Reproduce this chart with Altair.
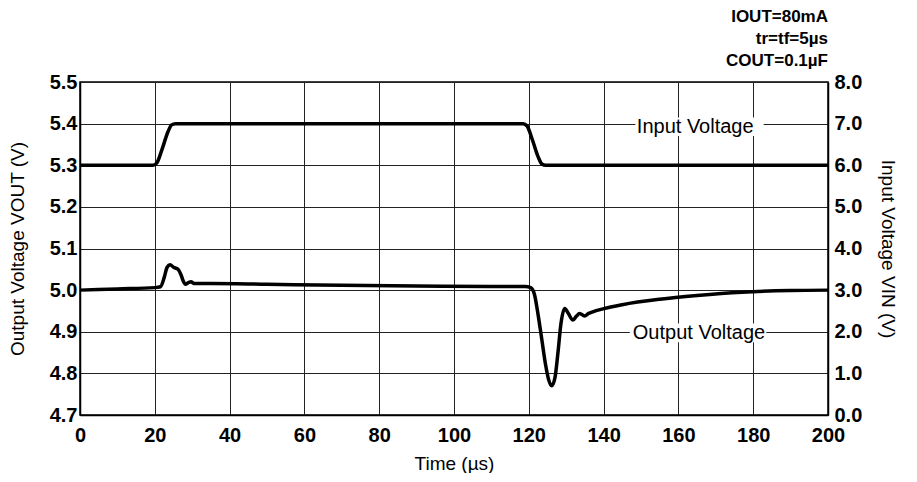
import altair as alt
import pandas as pd

# Output voltage (left axis, V) vs time (µs)
out_t = [0, 10, 20, 21.5, 22.5, 23.3, 24.1, 25, 26.2, 27, 27.6, 28.2, 29, 29.7, 30.5,
         35, 50, 70, 90, 110, 119, 120.5, 121.5, 122.5, 123.5, 124.5, 125.3, 126.1,
         127, 127.8, 128.6, 129.6, 130.5, 131.8, 132.7, 133.6, 134.9, 136, 137.1,
         139.8, 145, 155, 165, 177, 190, 200]
out_v = [5.000, 5.003, 5.006, 5.008, 5.030, 5.055, 5.061, 5.055, 5.050, 5.037, 5.022,
         5.014, 5.018, 5.020, 5.016, 5.016, 5.014, 5.0115, 5.010, 5.009, 5.009, 5.006,
         4.990, 4.940, 4.880, 4.820, 4.785, 4.770, 4.790, 4.850, 4.920, 4.956, 4.945,
         4.928, 4.937, 4.944, 4.938, 4.944, 4.948, 4.955, 4.965, 4.978, 4.987, 4.995,
         4.999, 5.000]

# Input voltage (right axis, V) vs time (µs)
in_t = [0, 19.5, 20.5, 22, 23.5, 24.5, 25.5, 118.5, 119.5, 121, 122.5, 123.5, 124.5, 200]
in_v = [6.0, 6.0, 6.05, 6.4, 6.8, 6.97, 7.0, 7.0, 6.95, 6.6, 6.2, 6.03, 6.0, 6.0]

# Curve labels (text, time, left-axis value) and their white backgrounds
lab_text = ["Input Voltage", "Output Voltage"]
lab_t = [164.5, 165.5]
lab_v = [5.392, 4.897]
bg_t1 = [148.5, 147.0]
bg_t2 = [182.8, 183.5]
bg_v1 = [5.37, 4.875]
bg_v2 = [5.415, 4.92]

notes = ["IOUT=80mA", "tr=tf=5µs", "COUT=0.1µF"]

FONT = "Liberation Sans"

out_df = pd.DataFrame({"t": out_t, "v": out_v})
in_df = pd.DataFrame({"t": in_t, "v": in_v})
lab_df = pd.DataFrame({"text": lab_text, "t": lab_t, "v": lab_v,
                       "t1": bg_t1, "t2": bg_t2, "v1": bg_v1, "v2": bg_v2})

xscale = alt.Scale(domain=[0, 200], nice=False)
xaxis = alt.Axis(values=list(range(0, 201, 20)), title="Time (µs)", grid=True,
                 gridColor="#222", gridOpacity=1, gridWidth=1, ticks=False,
                 labelPadding=10, titlePadding=9, labelFlush=False)
lscale = alt.Scale(domain=[4.7, 5.5], nice=False, zero=False)
laxis = alt.Axis(values=[4.7, 4.8, 4.9, 5.0, 5.1, 5.2, 5.3, 5.4, 5.5], format=".1f",
                 title="Output Voltage VOUT (V)", grid=True, gridColor="#222",
                 gridOpacity=1, gridWidth=1, ticks=False, labelPadding=3,
                 titlePadding=22, labelFlush=False)
rscale = alt.Scale(domain=[0, 8], nice=False)
raxis = alt.Axis(values=[0, 1, 2, 3, 4, 5, 6, 7, 8], format=".1f", orient="right",
                 title="Input Voltage VIN (V)", grid=False, ticks=False,
                 labelPadding=6, titlePadding=16, labelFlush=False)

bg = alt.Chart(lab_df).mark_rect(color="white").encode(
    x=alt.X("t1:Q", scale=xscale, axis=xaxis),
    x2="t2",
    y=alt.Y("v1:Q", scale=lscale, axis=laxis),
    y2="v2",
)
out_line = alt.Chart(out_df).mark_line(color="black", strokeWidth=3.5,
                                       interpolate="monotone").encode(
    x=alt.X("t:Q", scale=xscale, axis=xaxis),
    y=alt.Y("v:Q", scale=lscale, axis=laxis),
)
texts = alt.Chart(lab_df).mark_text(font=FONT, fontSize=20, color="black",
                                    align="center", baseline="middle").encode(
    x=alt.X("t:Q", scale=xscale, axis=xaxis),
    y=alt.Y("v:Q", scale=lscale, axis=laxis),
    text="text:N",
)
left = alt.layer(bg, out_line, texts)

in_line = alt.Chart(in_df).mark_line(color="black", strokeWidth=3.5,
                                     interpolate="monotone").encode(
    x=alt.X("t:Q", scale=xscale, axis=xaxis),
    y=alt.Y("v:Q", scale=rscale, axis=raxis),
)

chart = alt.layer(left, in_line).resolve_scale(y="independent").properties(
    width=748, height=333,
    padding={"left": 0, "top": 0, "right": 6, "bottom": 0},
    title=alt.TitleParams(text=notes, anchor="end", frame="group", font=FONT,
                          fontSize=17, fontWeight="bold", lineHeight=22,
                          offset=2, color="black"),
).configure_view(stroke="black", strokeWidth=1.5).configure_axis(
    labelFont=FONT, labelFontSize=20, labelFontWeight="bold", labelColor="black",
    titleFont=FONT, titleFontSize=19, titleFontWeight="normal", titleColor="black",
    domainColor="black", domainWidth=1.5,
)

chart.save("out.html", embed_options={"renderer": "svg", "actions": False})
